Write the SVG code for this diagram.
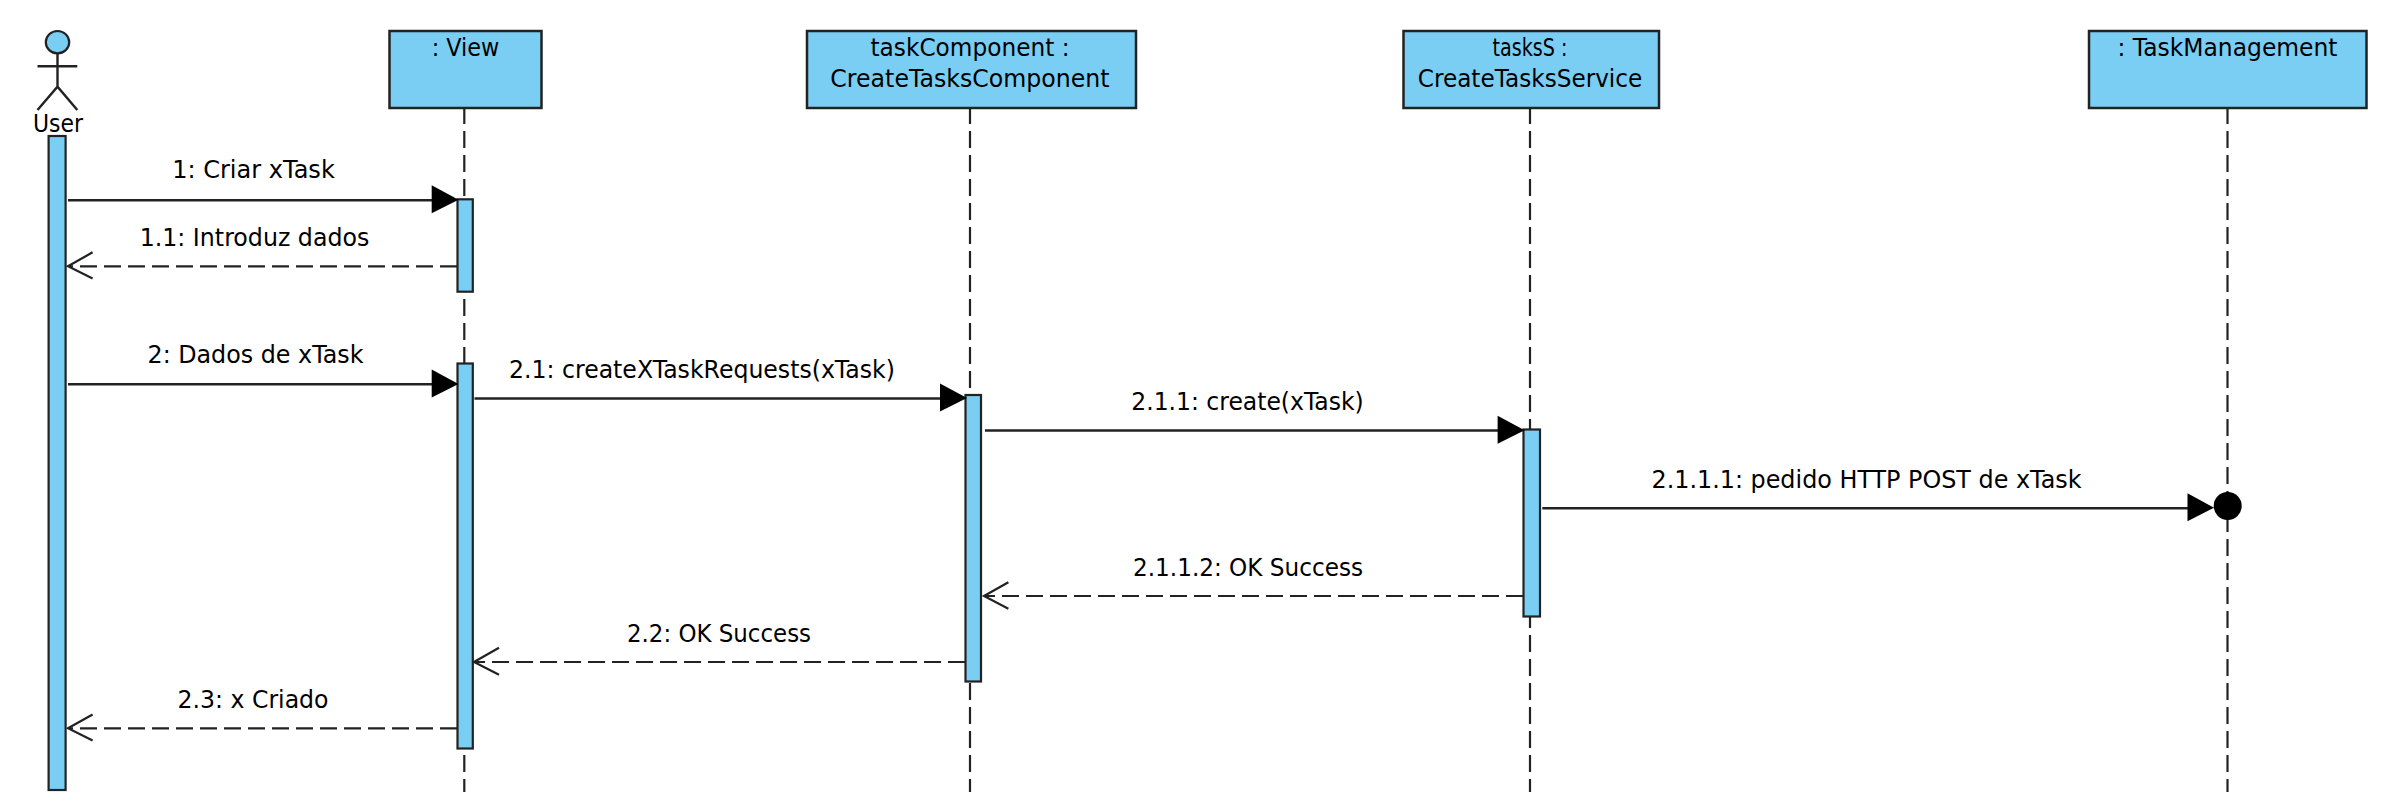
<svg xmlns="http://www.w3.org/2000/svg" width="2406" height="804" viewBox="0 0 2406 804">
<style>
.box{fill:#7acef4;stroke:#222;stroke-width:2.5}
.act{fill:#7acef4;stroke:#222;stroke-width:2.2}
.life{stroke:#222;stroke-width:2.2;stroke-dasharray:17 7;fill:none}
.msg{stroke:#222;stroke-width:2.4;fill:none}
.ret{stroke:#222;stroke-width:2.2;stroke-dasharray:17 7;fill:none}
.open{stroke:#222;stroke-width:2.2;fill:none}
text{font-family:"DejaVu Sans",sans-serif;font-size:24px;fill:#000;text-anchor:middle}
</style>
<rect width="2406" height="804" fill="#fff"/>
<g id="lifelines">
<line class="life" x1="464.3" y1="107" x2="464.3" y2="792"/>
<line class="life" x1="970" y1="107" x2="970" y2="792"/>
<line class="life" x1="1530" y1="107" x2="1530" y2="792"/>
<line class="life" x1="2227.5" y1="107" x2="2227.5" y2="792"/>
</g>
<g id="node-user">
<ellipse class="act" cx="57.5" cy="42.2" rx="11.7" ry="11.2"/>
<path class="msg" d="M57.5 53.5V86.7M37.5 66.3H77.3M37.5 110L57.5 86.7L77.3 110"/>
<text x="58" y="131.5" textLength="50" lengthAdjust="spacingAndGlyphs">User</text>
<rect class="act" x="48.6" y="136" width="17" height="654"/>
</g>
<g id="node-view">
<rect class="box" x="389.5" y="31" width="152" height="77"/>
<text x="465.5" y="55.7" textLength="67.7" lengthAdjust="spacingAndGlyphs">: View</text>
<rect class="act" x="457.5" y="199.3" width="15.3" height="92.4"/>
<rect class="act" x="457.5" y="363.5" width="15.3" height="385"/>
</g>
<g id="node-task-component">
<rect class="box" x="807" y="31" width="329" height="77"/>
<text x="970" y="55.7" textLength="199" lengthAdjust="spacingAndGlyphs">taskComponent :</text>
<text x="970" y="86.8" textLength="279.3" lengthAdjust="spacingAndGlyphs">CreateTasksComponent</text>
<rect class="act" x="965.5" y="395" width="15.5" height="286.5"/>
</g>
<g id="node-tasks">
<rect class="box" x="1403.5" y="31" width="255.5" height="77"/>
<text x="1530" y="55.7" textLength="75" lengthAdjust="spacingAndGlyphs">tasksS :</text>
<text x="1530" y="86.8" textLength="224.5" lengthAdjust="spacingAndGlyphs">CreateTasksService</text>
<rect class="act" x="1523.5" y="429.5" width="16.5" height="187"/>
</g>
<g id="node-task-management">
<rect class="box" x="2089" y="31" width="277.5" height="77"/>
<text x="2227.5" y="55.7" textLength="220" lengthAdjust="spacingAndGlyphs">: TaskManagement</text>
<circle cx="2227.7" cy="506" r="14" fill="#000"/>
</g>
<g id="connectors">
<path class="msg" d="M68 200.3H432"/><path d="M431.7 185.3V213.3L458.5 199.8Z"/>
<path class="ret" d="M457 266.3H70"/><path class="open" d="M92.6 252.3L68 266.3L92.6 278.5"/>
<path class="msg" d="M68 384.3H432"/><path d="M431.7 369.5V397.5L458.5 384Z"/>
<path class="msg" d="M474.5 398.5H940"/><path d="M940 383.5V411.5L967 398Z"/>
<path class="msg" d="M985 430.5H1498"/><path d="M1497.6 415.7V443.7L1524.6 430.2Z"/>
<path class="msg" d="M1542.3 508.3H2188"/><path d="M2187.5 493.3V521.3L2214 507.7Z"/>
<path class="ret" d="M1523 596H985"/><path class="open" d="M1008.4 582.3L984 596L1008.4 608.7"/>
<path class="ret" d="M965 662H476"/><path class="open" d="M499 647.7L474 662L499 674.7"/>
<path class="ret" d="M457 728.3H70"/><path class="open" d="M92.6 714.5L68 728.3L92.6 740.5"/>
</g>
<g id="labels">
<text x="253.5" y="177.7" textLength="162.6" lengthAdjust="spacingAndGlyphs">1: Criar xTask</text>
<text x="254.5" y="245.7" textLength="229.6" lengthAdjust="spacingAndGlyphs">1.1: Introduz dados</text>
<text x="255.5" y="363.3" textLength="216" lengthAdjust="spacingAndGlyphs">2: Dados de xTask</text>
<text x="702" y="378.3" textLength="386" lengthAdjust="spacingAndGlyphs">2.1: createXTaskRequests(xTask)</text>
<text x="1247.5" y="410" textLength="232.5" lengthAdjust="spacingAndGlyphs">2.1.1: create(xTask)</text>
<text x="1866.5" y="488.3" textLength="430" lengthAdjust="spacingAndGlyphs">2.1.1.1: pedido HTTP POST de xTask</text>
<text x="1248" y="575.7" textLength="230" lengthAdjust="spacingAndGlyphs">2.1.1.2: OK Success</text>
<text x="719" y="641.7" textLength="184" lengthAdjust="spacingAndGlyphs">2.2: OK Success</text>
<text x="253" y="707.7" textLength="151" lengthAdjust="spacingAndGlyphs">2.3: x Criado</text>
</g>
</svg>
